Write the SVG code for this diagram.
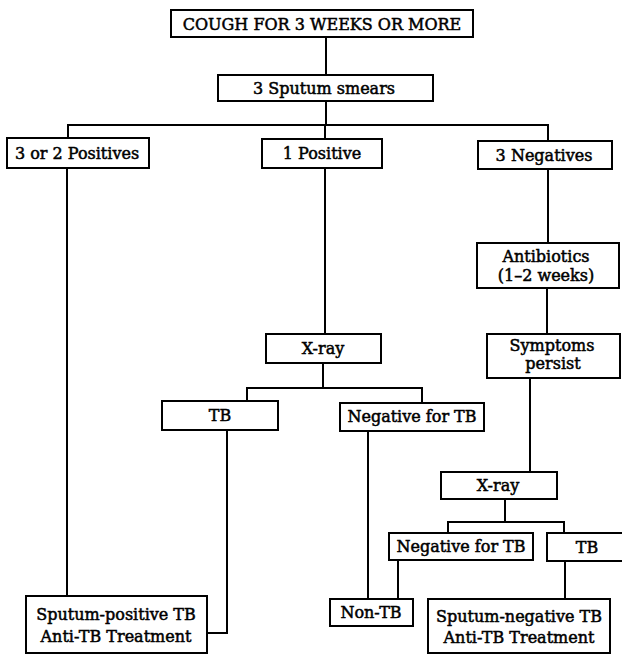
<svg xmlns="http://www.w3.org/2000/svg" width="622" height="656" viewBox="0 0 622 656">
<style>
  rect.box { fill: #fff; stroke: #000; stroke-width: 2; }
  text { font-family: "DejaVu Serif", "Liberation Serif", serif; font-size: 16px; fill: #000; stroke: #000; stroke-width: 0.5; text-anchor: middle; }
  .conn { fill: none; stroke: #000; stroke-width: 2; stroke-linecap: square; }
</style>
<rect x="0" y="0" width="622" height="656" fill="#fff"/>
<g id="connectors">
  <path class="conn" d="M326 36 V75"/>
  <path class="conn" d="M326 101 V125"/>
  <path class="conn" d="M68 138 V125 H548 V141"/>
  <path class="conn" d="M325 125 V139"/>
  <path class="conn" d="M67 168 V596"/>
  <path class="conn" d="M325 168 V334"/>
  <path class="conn" d="M548 169 V243"/>
  <path class="conn" d="M547 288 V334"/>
  <path class="conn" d="M323 363 V388"/>
  <path class="conn" d="M247 401 V388 H422 V403"/>
  <path class="conn" d="M227 430 V633 H207"/>
  <path class="conn" d="M368 431 V599"/>
  <path class="conn" d="M530 378 V472"/>
  <path class="conn" d="M505 499 V522"/>
  <path class="conn" d="M448 533 V522 H564 V533"/>
  <path class="conn" d="M398 560 V599"/>
  <path class="conn" d="M565 561 V599"/>
</g>
<g id="cough">
  <rect class="box" x="171" y="10" width="302" height="27"/>
  <text x="322" y="29.5" font-size="16.8">COUGH FOR 3 WEEKS OR MORE</text>
</g>
<g id="sputum-smears">
  <rect class="box" x="218" y="75" width="215" height="26"/>
  <text x="324" y="94">3 Sputum smears</text>
</g>
<g id="pos-3-or-2">
  <rect class="box" x="7" y="138" width="142" height="30"/>
  <text x="77" y="159">3 or 2 Positives</text>
</g>
<g id="pos-1">
  <rect class="box" x="262" y="139" width="120" height="29"/>
  <text x="322" y="159">1 Positive</text>
</g>
<g id="neg-3">
  <rect class="box" x="478" y="141" width="134" height="28"/>
  <text x="544" y="161">3 Negatives</text>
</g>
<g id="antibiotics">
  <rect class="box" x="477" y="243" width="142" height="45"/>
  <text x="546" y="262">Antibiotics</text>
  <text x="546" y="281">(1–2 weeks)</text>
</g>
<g id="symptoms">
  <rect class="box" x="487" y="334" width="133" height="44"/>
  <text x="552" y="351">Symptoms</text>
  <text x="553" y="369">persist</text>
</g>
<g id="xray-1">
  <rect class="box" x="266" y="334" width="115" height="29"/>
  <text x="323" y="354">X-ray</text>
</g>
<g id="tb-1">
  <rect class="box" x="162" y="401" width="116" height="29"/>
  <text x="220" y="421">TB</text>
</g>
<g id="negtb-1">
  <rect class="box" x="340" y="403" width="144" height="28"/>
  <text x="412" y="422">Negative for TB</text>
</g>
<g id="xray-2">
  <rect class="box" x="441" y="472" width="116" height="27"/>
  <text x="498" y="491">X-ray</text>
</g>
<g id="negtb-2">
  <rect class="box" x="389" y="533" width="144" height="27"/>
  <text x="461" y="552">Negative for TB</text>
</g>
<g id="tb-2">
  <rect class="box" x="547" y="533" width="80" height="28"/>
  <text x="587" y="553">TB</text>
</g>
<g id="non-tb">
  <rect class="box" x="330" y="599" width="83" height="27"/>
  <text x="371" y="618">Non-TB</text>
</g>
<g id="sputum-negative">
  <rect class="box" x="428" y="599" width="182" height="54"/>
  <text x="519" y="622">Sputum-negative TB</text>
  <text x="519" y="643">Anti-TB Treatment</text>
</g>
<g id="sputum-positive">
  <rect class="box" x="26" y="596" width="181" height="57"/>
  <text x="116" y="620">Sputum-positive TB</text>
  <text x="116" y="642">Anti-TB Treatment</text>
</g>
</svg>
